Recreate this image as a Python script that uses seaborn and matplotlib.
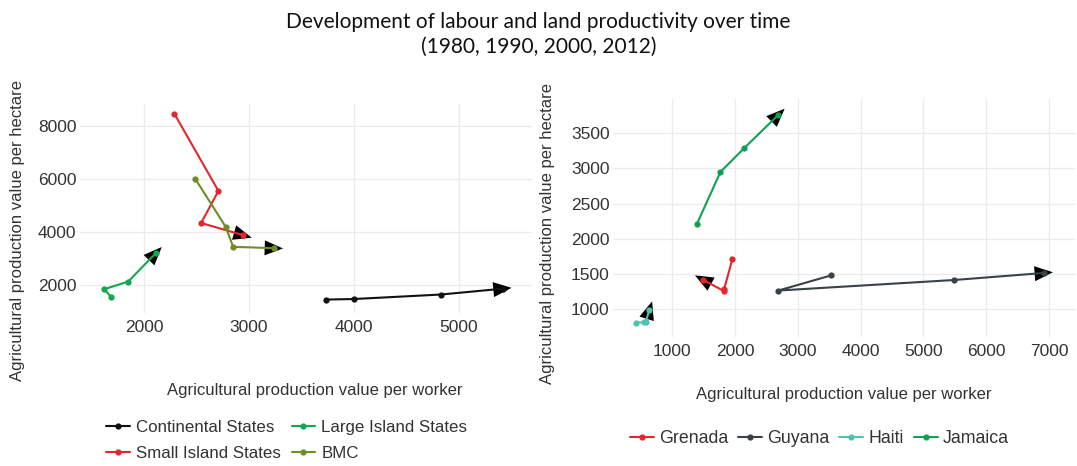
import numpy as np
import pandas as pd
import seaborn as sns
import matplotlib.pyplot as plt

# left panel: country groups
group_names = ["Continental States", "Large Island States", "Small Island States", "BMC"]
continental_x = [3740, 4000, 4830, 5420]
continental_y = [1450, 1470, 1640, 1860]
large_x = [1690, 1620, 1850, 2110]
large_y = [1540, 1840, 2130, 3190]
small_x = [2290, 2710, 2545, 2945]
small_y = [8460, 5550, 4340, 3880]
bmc_x = [2490, 2780, 2850, 3240]
bmc_y = [6000, 4190, 3440, 3390]

# right panel: single countries
country_names = ["Grenada", "Guyana", "Haiti", "Jamaica"]
grenada_x = [1960, 1830, 1820, 1490]
grenada_y = [1710, 1290, 1260, 1420]
guyana_x = [3530, 2690, 5490, 6920]
guyana_y = [1480, 1265, 1415, 1515]
haiti_x = [430, 560, 580, 640]
haiti_y = [810, 812, 820, 990]
jamaica_x = [1395, 1770, 2150, 2690]
jamaica_y = [2210, 2950, 3290, 3760]

years = [1980, 1990, 2000, 2012]

left_colors = {
    "Continental States": "#111111",
    "Large Island States": "#12a84e",
    "Small Island States": "#e3262f",
    "BMC": "#6f8c25",
}
right_colors = {
    "Grenada": "#e3262f",
    "Guyana": "#3a4246",
    "Haiti": "#4fc1ae",
    "Jamaica": "#0fa150",
}


def make_frame(names, xs, ys):
    rows = []
    for name, gx, gy in zip(names, xs, ys):
        for yr, a, b in zip(years, gx, gy):
            rows.append({"group": name, "year": yr, "worker": a, "hectare": b})
    return pd.DataFrame(rows)


df_left = make_frame(
    group_names,
    [continental_x, large_x, small_x, bmc_x],
    [continental_y, large_y, small_y, bmc_y],
)
df_right = make_frame(
    country_names,
    [grenada_x, guyana_x, haiti_x, jamaica_x],
    [grenada_y, guyana_y, haiti_y, jamaica_y],
)

sns.set_theme(style="whitegrid")
plt.rcParams["font.family"] = ["Liberation Sans", "DejaVu Sans"]

fig = plt.figure(figsize=(10.77, 4.66), dpi=100)
W, H = 1077, 466
ax1 = fig.add_axes([80 / W, 1 - 313 / H, (532 - 80) / W, (313 - 104) / H])
ax2 = fig.add_axes([613 / W, 1 - 337 / H, (1075 - 613) / W, (337 - 99) / H])


def draw_panel(ax, df, colors, order):
    sns.lineplot(
        data=df, x="worker", y="hectare", hue="group", hue_order=order,
        palette=colors, sort=False, estimator=None, marker="o",
        markersize=4.5, markeredgewidth=0, linewidth=1.5, ax=ax, zorder=3,
    )
    ax.set_xlabel("Agricultural production value per worker", fontsize=12, color="#333333")
    ax.set_ylabel("Agricultural production value per hectare", fontsize=12, color="#333333")
    ax.tick_params(axis="x", labelsize=12.5, colors="#333333", length=0, pad=5)
    ax.tick_params(axis="y", labelsize=12.5, colors="#333333", length=0, pad=2.5)
    ax.grid(True, color="#ebebeb", linewidth=0.9)
    for s in ax.spines.values():
        s.set_visible(False)


def add_arrows(ax, df, order):
    # black arrow head at the end of each path, tip a bit past the last point
    to_px = ax.transData
    to_data = ax.transData.inverted()
    for name in order:
        sub = df[df["group"] == name].sort_values("year")
        pts = to_px.transform(sub[["worker", "hectare"]].values)
        d = pts[-1] - pts[-2]
        u = d / np.hypot(*d)
        tip = to_data.transform(pts[-1] + u * 9)
        ax.annotate(
            "", xy=tip, xytext=sub[["worker", "hectare"]].values[-2],
            annotation_clip=False, zorder=2.5,
            arrowprops=dict(arrowstyle="-|>,head_length=1.1,head_width=0.45",
                            color="black", lw=0, shrinkA=0, shrinkB=0),
        )


draw_panel(ax1, df_left, left_colors, group_names)
draw_panel(ax2, df_right, right_colors, country_names)

ax1.set_xlim(1390, 5700)
ax1.set_ylim(943, 8830)
ax1.set_xticks([2000, 3000, 4000, 5000])
ax1.set_yticks([2000, 4000, 6000, 8000])
ax1.xaxis.set_label_coords(0.52, -0.335)
ax1.yaxis.set_label_coords(-0.122, 0.397)

ax2.set_xlim(60, 7414)
ax2.set_ylim(605, 3987)
ax2.set_xticks([1000, 2000, 3000, 4000, 5000, 6000, 7000])
ax2.set_yticks([1000, 1500, 2000, 2500, 3000, 3500])
ax2.xaxis.labelpad = 20
ax2.yaxis.set_label_coords(-0.1255, 0.433)

add_arrows(ax1, df_left, group_names)
add_arrows(ax2, df_right, country_names)

# legends below each panel
h, l = ax1.get_legend_handles_labels()
idx = [0, 2, 1, 3]
ax1.legend([h[i] for i in idx], [l[i] for i in idx], ncol=2, frameon=False,
           loc="center left", bbox_to_anchor=(106 / W, 1 - 440.5 / H),
           bbox_transform=fig.transFigure, borderpad=0, borderaxespad=0,
           fontsize=12.2, handlelength=1.4, handletextpad=0.35,
           columnspacing=0.65, labelspacing=0.6, labelcolor="#333333")
h, l = ax2.get_legend_handles_labels()
ax2.legend(h, l, ncol=4, frameon=False, loc="center left",
           bbox_to_anchor=(629.5 / W, 1 - 438.5 / H),
           bbox_transform=fig.transFigure, borderpad=0, borderaxespad=0,
           fontsize=12.8, handlelength=1.35, handletextpad=0.3,
           columnspacing=0.55, labelcolor="#333333")

fig.text(0.5, 1 - 22 / H, "Development of labour and land productivity over time",
         ha="center", va="center", fontsize=15, family=["Lato", "DejaVu Sans"], color="#111111")
fig.text(0.5, 1 - 47 / H, "(1980, 1990, 2000, 2012)",
         ha="center", va="center", fontsize=15, family=["Lato", "DejaVu Sans"], color="#111111")

fig.savefig("out.png", dpi=100)
